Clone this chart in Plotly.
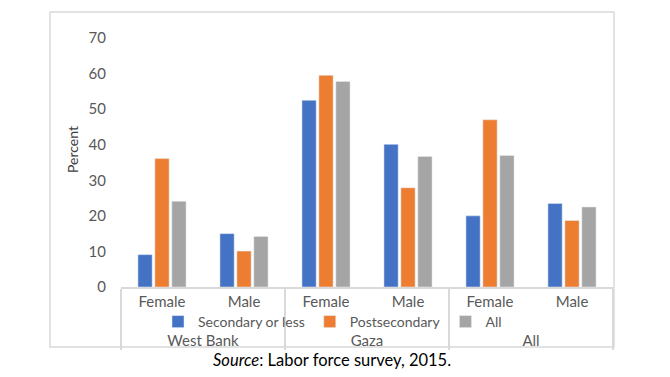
import plotly.graph_objects as go

regions = ["West Bank", "West Bank", "Gaza", "Gaza", "All", "All"]
sexes = ["Female", "Male", "Female", "Male", "Female", "Male"]
secondary_or_less = [9.1, 15.0, 52.5, 40.1, 20.0, 23.5]
postsecondary = [36.1, 10.1, 59.5, 27.9, 47.0, 18.7]
all_levels = [24.1, 14.2, 57.8, 36.7, 37.0, 22.5]
y_ticks = [0, 10, 20, 30, 40, 50, 60, 70]

FONT = "Lato"
GRAY_TXT = "#595959"
BORDER = "#d9d9d9"

# page body has an 8px margin: work in reference pixels, shift by OFF
OFF = 8
W, H = 670 - OFF, 377 - OFF
L = 121 - OFF
T = 38 - OFF
R = W - (613 - OFF)
B = H - (287 - OFF)
pw = W - L - R
ph = H - T - B

def px_x(p):
    return (p - OFF - L) / pw

def px_y(p):
    return (H - B - (p - OFF)) / ph

inner = [s + "<br> " for s in sexes]
x = [regions, inner]
fig = go.Figure()
fig.add_trace(go.Bar(x=x, y=secondary_or_less, name="Secondary or less", marker_color="#4472C4"))
fig.add_trace(go.Bar(x=x, y=postsecondary, name="Postsecondary", marker_color="#ED7D31"))
fig.add_trace(go.Bar(x=x, y=all_levels, name="All", marker_color="#A5A5A5"))

fig.update_layout(
    width=W, height=H,
    margin=dict(l=L, r=R, t=T, b=B),
    paper_bgcolor="white", plot_bgcolor="white",
    font=dict(family=FONT, color=GRAY_TXT, size=15),
    barmode="group", bargap=0.38, bargroupgap=0.16,
    showlegend=True,
    legend=dict(orientation="h", x=px_x(158), xanchor="left", y=px_y(322), yanchor="middle",
                font=dict(size=14, color=GRAY_TXT), bgcolor="rgba(0,0,0,0)",
                itemwidth=30, traceorder="normal"),
    xaxis=dict(type="multicategory", showline=True, linecolor=BORDER, linewidth=1.5,
               showgrid=False, ticks="", showdividers=True, dividercolor=BORDER, dividerwidth=1.5,
               tickfont=dict(size=15, color=GRAY_TXT)),
    yaxis=dict(range=[0, 70], tickvals=y_ticks, showgrid=False, showline=False, zeroline=False,
               ticks="", ticklabelstandoff=14, tickfont=dict(size=15, color=GRAY_TXT)),
    shapes=[dict(type="rect", xref="paper", yref="paper",
                 x0=px_x(50), x1=px_x(614), y0=px_y(347), y1=px_y(12),
                 line=dict(color=BORDER, width=1.5), fillcolor="rgba(0,0,0,0)", layer="below")],
    annotations=[
        dict(text="Percent", xref="paper", yref="paper", x=px_x(72), y=px_y(150),
             xanchor="center", yanchor="middle",
             textangle=-90, showarrow=False, font=dict(size=14, color="#404040")),
        dict(text="<i>Source</i>: Labor force survey, 2015.", xref="paper", yref="paper",
             x=px_x(332), y=px_y(360), xanchor="center", yanchor="middle",
             showarrow=False, font=dict(size=16.5, color="black")),
    ],
)

fig.write_html("out.html")
